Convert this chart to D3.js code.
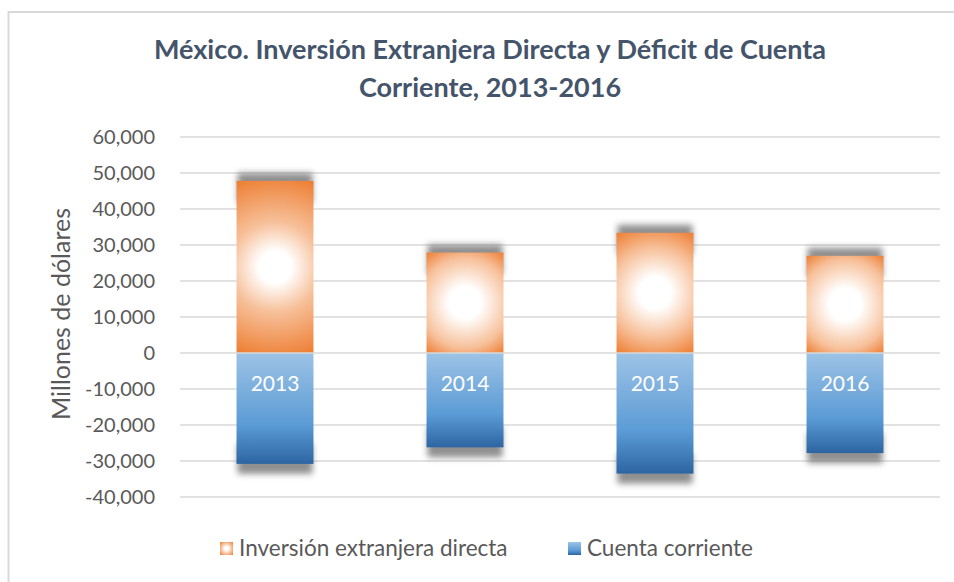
<!DOCTYPE html>
<html>
<head>
<meta charset="utf-8">
<script src="https://cdn.jsdelivr.net/npm/d3@7/dist/d3.min.js"></script>
<style>
  html, body { margin: 0; padding: 0; background: #fff; }
  svg { display: block; }
  text { font-family: Lato, "Open Sans", sans-serif; }
</style>
</head>
<body>
<svg id="chart" width="954" height="582"></svg>
<script>
// ---- data ----
const years = ["2013", "2014", "2015", "2016"];
const inversionExtranjera = [47800, 27900, 33400, 27000];
const cuentaCorriente = [-30800, -26200, -33500, -27800];
const yTicks = [-40000, -30000, -20000, -10000, 0, 10000, 20000, 30000, 40000, 50000, 60000];
const titleLines = ["México. Inversión Extranjera Directa y Déficit de Cuenta", "Corriente, 2013-2016"];
const yAxisTitle = "Millones de dólares";
const legendLabels = ["Inversión extranjera directa", "Cuenta corriente"];

const svg = d3.select("#chart");

// chart area border (extends beyond right/bottom)
svg.append("rect")
  .attr("x", 8.5).attr("y", 12).attr("width", 1000).attr("height", 700)
  .attr("fill", "none").attr("stroke", "#D9D9D9").attr("stroke-width", 2);

const defs = svg.append("defs");
const blur = defs.append("filter").attr("id", "shadowBlur")
  .attr("x", "-30%").attr("y", "-30%").attr("width", "160%").attr("height", "160%");
blur.append("feGaussianBlur").attr("stdDeviation", 3);

const blueGrad = defs.append("linearGradient").attr("id", "blueGrad")
  .attr("x1", 0).attr("y1", 0).attr("x2", 0).attr("y2", 1);
blueGrad.append("stop").attr("offset", "0%").attr("stop-color", "#9DC3E6");
blueGrad.append("stop").attr("offset", "65%").attr("stop-color", "#5B9BD5");
blueGrad.append("stop").attr("offset", "100%").attr("stop-color", "#2C65A2");

const legOr = defs.append("radialGradient").attr("id", "legOrange")
  .attr("cx", "50%").attr("cy", "50%").attr("r", "70%");
legOr.append("stop").attr("offset", "0%").attr("stop-color", "#FFFFFF");
legOr.append("stop").attr("offset", "20%").attr("stop-color", "#FFFFFF");
legOr.append("stop").attr("offset", "100%").attr("stop-color", "#ED7D31");

// ---- scales ----
const y = d3.scaleLinear().domain([-40000, 60000]).range([497, 137]);
const x = d3.scaleBand().domain(years).range([180, 940])
  .paddingInner(0.595).paddingOuter(0.2975);
const plotLeft = 180, plotRight = 940;

// ---- gridlines ----
svg.append("g").selectAll("line").data(yTicks.filter(d => d !== 0)).join("line")
  .attr("x1", plotLeft).attr("x2", plotRight)
  .attr("y1", d => y(d)).attr("y2", d => y(d))
  .attr("stroke", "#D9D9D9").attr("stroke-width", 1.4);

// ---- y axis labels ----
const fmt = d3.format(",");
const yAxis = d3.axisLeft(y).tickValues(yTicks).tickSize(0).tickPadding(0)
  .tickFormat(d => fmt(d).replace("\u2212", "-"));
const yg = svg.append("g").attr("transform", "translate(155,0)").call(yAxis);
yg.select(".domain").remove();
yg.selectAll("text").attr("font-family", "Lato, sans-serif").attr("font-size", 20)
  .attr("fill", "#595959");

svg.append("text")
  .attr("transform", "translate(70,314) rotate(-90)")
  .attr("text-anchor", "middle")
  .attr("font-size", 25).attr("fill", "#595959")
  .text(yAxisTitle);

// ---- bars ----
const data = years.map((yr, i) => ({ yr, ied: inversionExtranjera[i], cc: cuentaCorriente[i] }));

const sh = svg.append("g").attr("filter", "url(#shadowBlur)").attr("opacity", 0.75);
data.forEach(d => {
  const bx = x(d.yr), bw = x.bandwidth();
  sh.append("rect").attr("x", bx + 1).attr("width", bw - 2)
    .attr("y", y(d.ied) - 8).attr("height", 30).attr("fill", "#6b6b6b");
  sh.append("rect").attr("x", bx + 1).attr("width", bw - 2)
    .attr("y", y(d.cc) - 20).attr("height", 30).attr("fill", "#6b6b6b");
});

data.forEach((d, i) => {
  const bx = x(d.yr), bw = x.bandwidth();
  const top = y(d.ied), bot = y(0), h = bot - top;
  const r = Math.sqrt((bw / 2) ** 2 + (h / 2) ** 2);
  const g = defs.append("radialGradient").attr("id", "orange" + i)
    .attr("gradientUnits", "userSpaceOnUse")
    .attr("cx", bx + bw / 2).attr("cy", top + h / 2).attr("r", r)
    .attr("fx", bx + bw / 2).attr("fy", top + h / 2);
  g.append("stop").attr("offset", 0).attr("stop-color", "#FFFFFF");
  g.append("stop").attr("offset", 16 / r).attr("stop-color", "#FFFFFF");
  g.append("stop").attr("offset", Math.min(0.9, 45 / r)).attr("stop-color", "#F7C09A");
  g.append("stop").attr("offset", 1).attr("stop-color", "#ED7D31");
});

svg.append("g").selectAll("rect").data(data).join("rect")
  .attr("x", d => x(d.yr)).attr("width", x.bandwidth())
  .attr("y", d => y(d.ied)).attr("height", d => y(0) - y(d.ied))
  .attr("fill", (d, i) => `url(#orange${i})`);

svg.append("g").selectAll("rect").data(data).join("rect")
  .attr("x", d => x(d.yr)).attr("width", x.bandwidth())
  .attr("y", y(0)).attr("height", d => y(d.cc) - y(0))
  .attr("fill", "url(#blueGrad)");

svg.append("line").attr("x1", plotLeft).attr("x2", plotRight)
  .attr("y1", y(0)).attr("y2", y(0))
  .attr("stroke", "#D9D9D9").attr("stroke-width", 1.6);

const xAxis = d3.axisBottom(x).tickSize(0).tickPadding(0);
const xg = svg.append("g").attr("transform", `translate(0,${y(0)})`).call(xAxis);
xg.select(".domain").remove();
xg.selectAll("text").attr("dy", null).attr("y", 38)
  .attr("font-family", "Lato, sans-serif").attr("font-size", 21).attr("fill", "#FFFFFF");

// ---- title ----
svg.append("g").selectAll("text").data(titleLines).join("text")
  .attr("x", 490).attr("y", (d, i) => 59 + i * 38)
  .attr("text-anchor", "middle")
  .attr("font-size", 27).attr("font-weight", "bold").attr("fill", "#44546A")
  .text(d => d);

// ---- legend ----
const legend = svg.append("g");
const legItems = [
  { label: legendLabels[0], fill: "url(#legOrange)", sx: 220 },
  { label: legendLabels[1], fill: "url(#blueGrad)", sx: 568 }
];
legItems.forEach(it => {
  legend.append("rect").attr("x", it.sx).attr("y", 542).attr("width", 13).attr("height", 13)
    .attr("fill", it.fill);
  legend.append("text").attr("x", it.sx + 19).attr("y", 556)
    .attr("font-size", 22.5).attr("fill", "#595959").text(it.label);
});
</script>
</body>
</html>
